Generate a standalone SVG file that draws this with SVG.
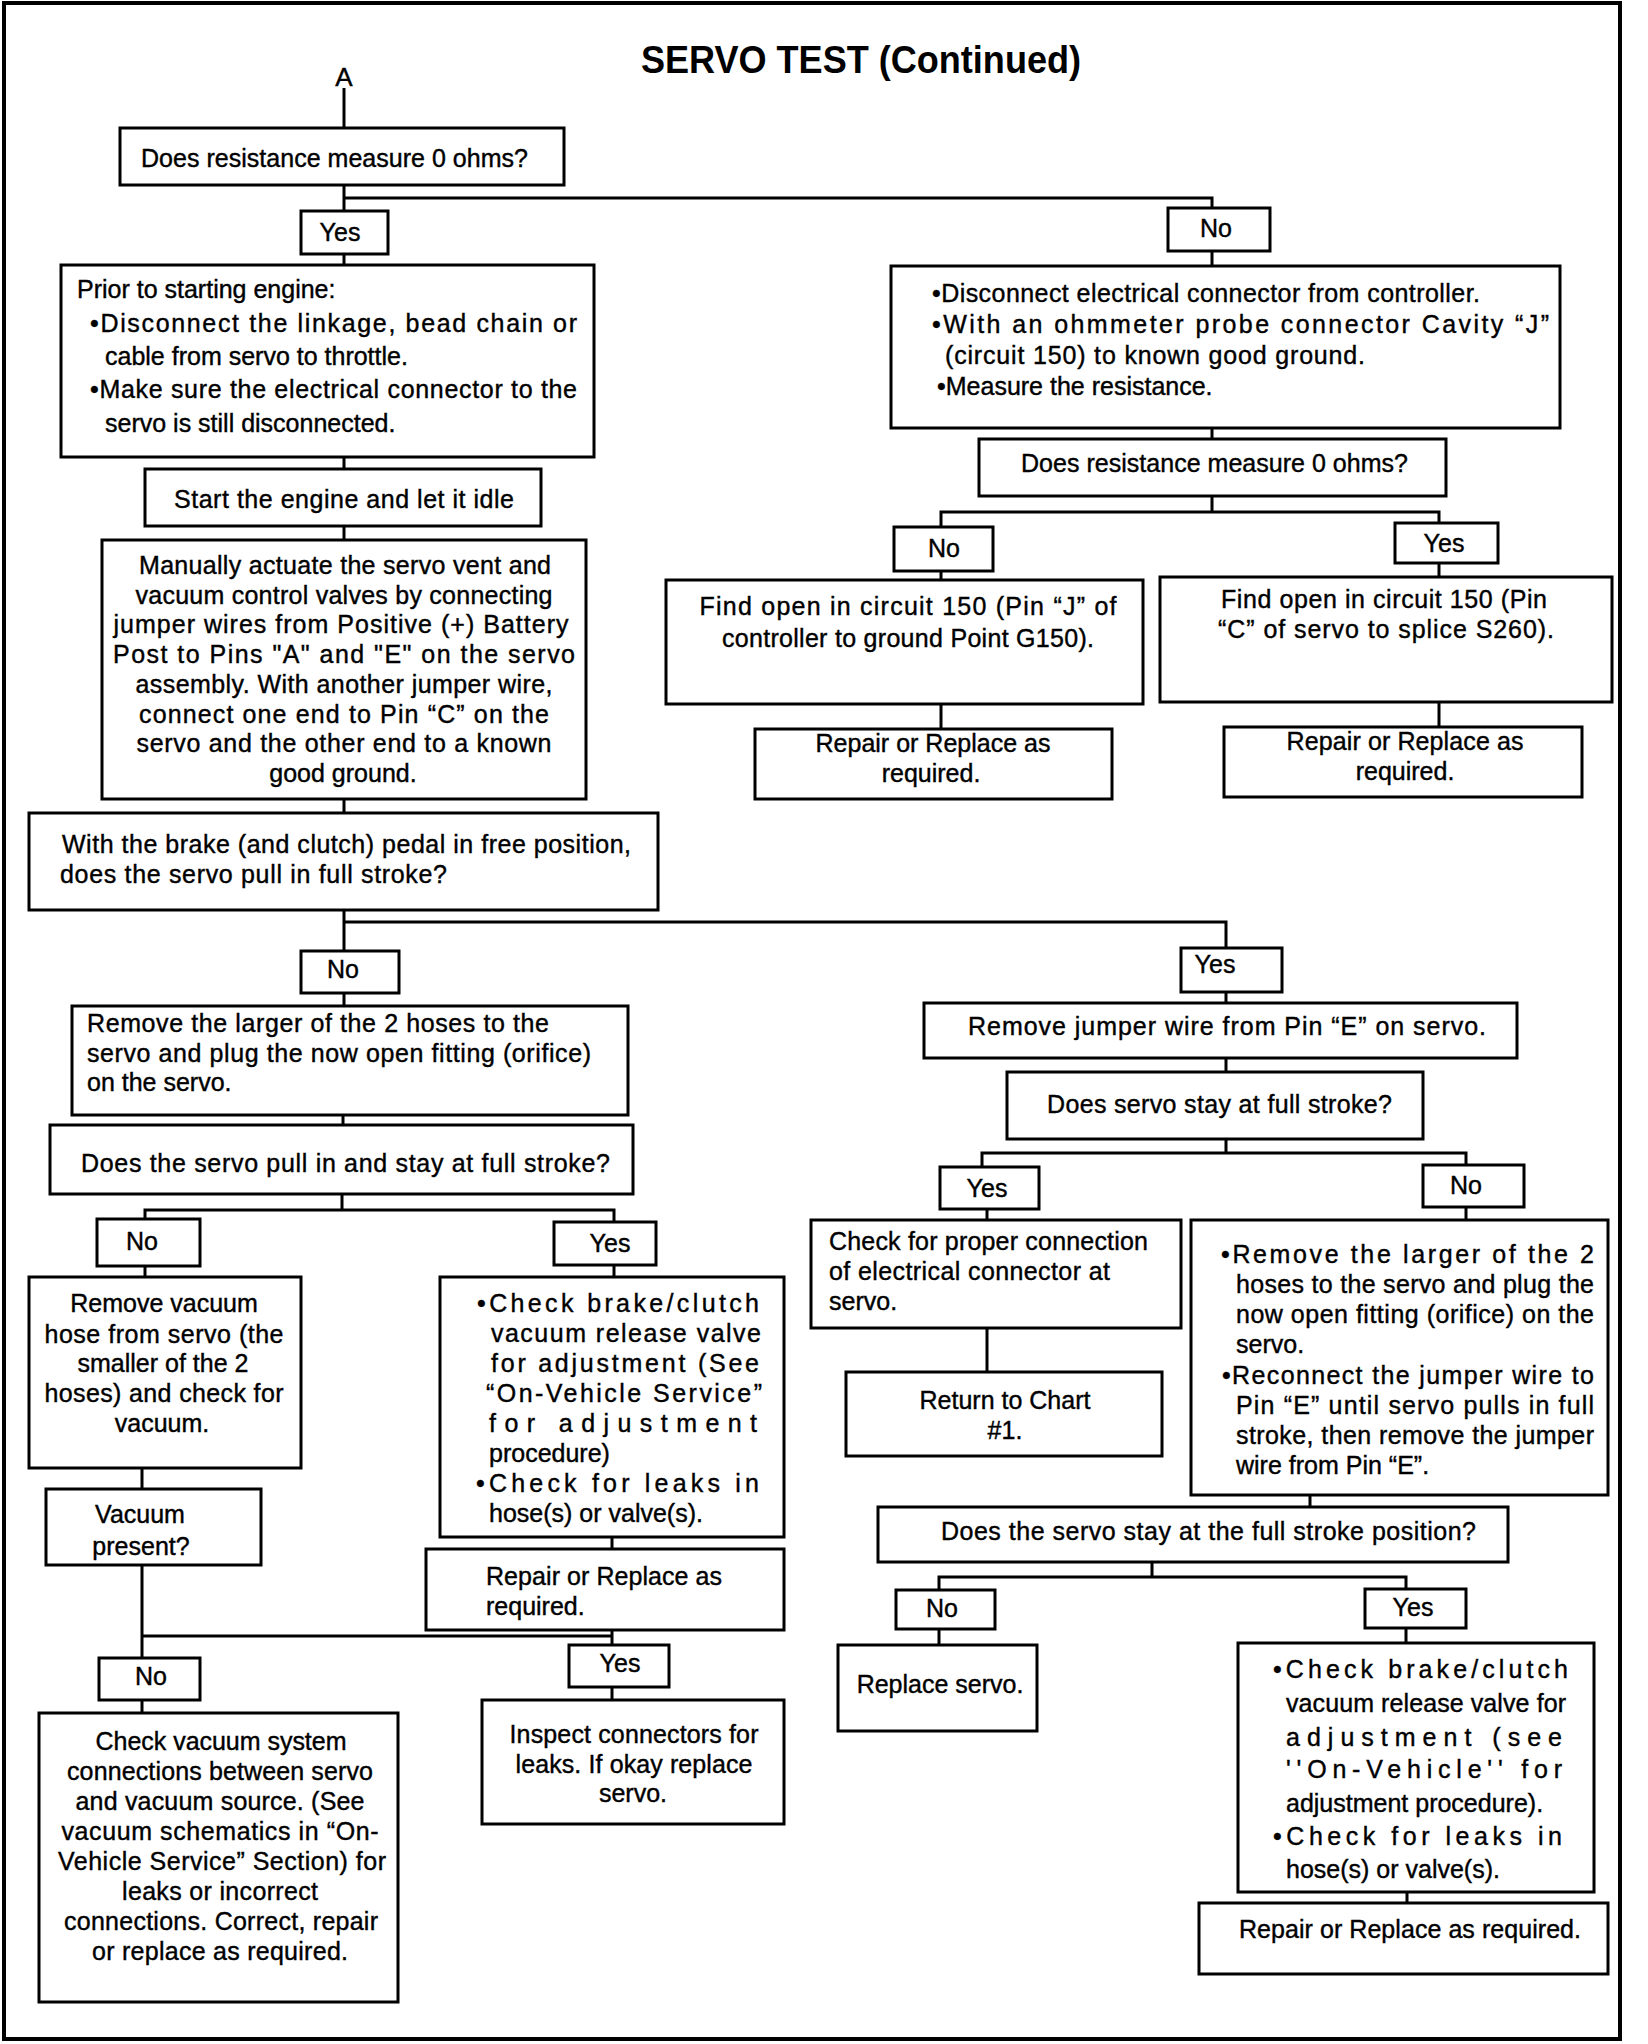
<svg xmlns="http://www.w3.org/2000/svg" width="1648" height="2044" viewBox="0 0 1648 2044">
<style>
.bx{fill:#fff;stroke:#000;stroke-width:3}
.t{font-family:'Liberation Sans',Arial,sans-serif;font-size:25px;fill:#000;stroke:#000;stroke-width:0.4px}
.c{text-anchor:middle}
.ttl{font-family:'Liberation Sans',Arial,sans-serif;font-size:38px;font-weight:bold;fill:#000}
.cn{fill:none;stroke:#000;stroke-width:3}
</style>
<rect x="0" y="0" width="1648" height="2044" fill="#fff"/>
<rect x="4" y="3" width="1616" height="2036" fill="none" stroke="#000" stroke-width="4"/>
<text class="ttl" x="641" y="73" textLength="440" lengthAdjust="spacingAndGlyphs">SERVO TEST (Continued)</text>
<text class="t c" x="344" y="86" style="font-size:26px">A</text>

<g id="connectors" class="cn">
<path d="M344 88V128"/>
<path d="M344 185V211M344 198H1212V208"/>
<path d="M344 254V265"/>
<path d="M344 457V469"/>
<path d="M344 526V540"/>
<path d="M344 799V813"/>
<path d="M344 910V951M344 922H1226V948"/>
<path d="M344 993V1006"/>
<path d="M343 1115V1125"/>
<path d="M342 1194V1210M145 1219V1210H614V1222"/>
<path d="M145 1266V1277"/>
<path d="M614 1265V1277"/>
<path d="M142 1468V1489"/>
<path d="M612 1537V1549"/>
<path d="M142 1565V1658M142 1636H612M612 1630V1645"/>
<path d="M612 1687V1699"/>
<path d="M142 1700V1713"/>
<path d="M1212 251V266"/>
<path d="M1212 428V439"/>
<path d="M1212 496V512M941 527V512H1439V523"/>
<path d="M941 571V580"/>
<path d="M1439 563V577"/>
<path d="M941 704V729"/>
<path d="M1439 702V727"/>
<path d="M1226 992V1003"/>
<path d="M1226 1058V1072"/>
<path d="M1226 1139V1153M982 1167V1153H1466V1165"/>
<path d="M987 1209V1220"/>
<path d="M1466 1207V1220"/>
<path d="M987 1328V1372"/>
<path d="M1310 1495V1507"/>
<path d="M1152 1562V1577M939 1590V1577H1406V1589"/>
<path d="M939 1629V1645"/>
<path d="M1406 1628V1643"/>
<path d="M1407 1892V1903"/>
</g>

<g id="q1">
<rect class="bx" x="120" y="128" width="444" height="57"/>
<text class="t" x="141" y="167" textLength="387" lengthAdjust="spacing">Does resistance measure 0 ohms?</text>
</g>
<g id="q1-yes"><rect class="bx" x="301" y="211" width="87" height="43"/><text class="t c" x="340" y="241">Yes</text></g>
<g id="q1-no"><rect class="bx" x="1168" y="208" width="102" height="43"/><text class="t c" x="1216" y="237">No</text></g>

<g id="prior">
<rect class="bx" x="61" y="265" width="533" height="192"/>
<text class="t" x="77" y="298">Prior to starting engine:</text>
<text class="t" x="90" y="332" textLength="487" lengthAdjust="spacing">•Disconnect the linkage, bead chain or</text>
<text class="t" x="105" y="365">cable from servo to throttle.</text>
<text class="t" x="90" y="398" textLength="487" lengthAdjust="spacing">•Make sure the electrical connector to the</text>
<text class="t" x="105" y="432">servo is still disconnected.</text>
</g>

<g id="start">
<rect class="bx" x="145" y="469" width="396" height="57"/>
<text class="t c" x="344" y="508" textLength="340" lengthAdjust="spacing">Start the engine and let it idle</text>
</g>

<g id="manual">
<rect class="bx" x="102" y="540" width="484" height="259"/>
<text class="t c" x="345" y="574" textLength="412" lengthAdjust="spacing">Manually actuate the servo vent and</text>
<text class="t c" x="344" y="604" textLength="417" lengthAdjust="spacing">vacuum control valves by connecting</text>
<text class="t c" x="341" y="633" textLength="455" lengthAdjust="spacing">jumper wires from Positive (+) Battery</text>
<text class="t c" x="344" y="663" textLength="462" lengthAdjust="spacing">Post to Pins "A" and "E" on the servo</text>
<text class="t c" x="344" y="693" textLength="417" lengthAdjust="spacing">assembly. With another jumper wire,</text>
<text class="t c" x="344" y="723" textLength="410" lengthAdjust="spacing">connect one end to Pin “C” on the</text>
<text class="t c" x="344" y="752" textLength="415" lengthAdjust="spacing">servo and the other end to a known</text>
<text class="t c" x="343" y="782">good ground.</text>
</g>

<g id="brake">
<rect class="bx" x="29" y="813" width="629" height="97"/>
<text class="t" x="62" y="853" textLength="569" lengthAdjust="spacing">With the brake (and clutch) pedal in free position,</text>
<text class="t" x="60" y="883" textLength="387" lengthAdjust="spacing">does the servo pull in full stroke?</text>
</g>
<g id="brake-no"><rect class="bx" x="301" y="951" width="98" height="42"/><text class="t c" x="343" y="978">No</text></g>
<g id="brake-yes"><rect class="bx" x="1181" y="948" width="101" height="44"/><text class="t c" x="1215" y="973">Yes</text></g>

<g id="remove-larger">
<rect class="bx" x="72" y="1006" width="556" height="109"/>
<text class="t" x="87" y="1032" textLength="462" lengthAdjust="spacing">Remove the larger of the 2 hoses to the</text>
<text class="t" x="87" y="1062" textLength="504" lengthAdjust="spacing">servo and plug the now open fitting (orifice)</text>
<text class="t" x="87" y="1091">on the servo.</text>
</g>

<g id="pull-stay">
<rect class="bx" x="50" y="1125" width="583" height="69"/>
<text class="t" x="81" y="1172" textLength="529" lengthAdjust="spacing">Does the servo pull in and stay at full stroke?</text>
</g>
<g id="pull-no"><rect class="bx" x="97" y="1219" width="103" height="47"/><text class="t c" x="142" y="1250">No</text></g>
<g id="pull-yes"><rect class="bx" x="554" y="1222" width="102" height="43"/><text class="t c" x="610" y="1252">Yes</text></g>

<g id="remove-vacuum">
<rect class="bx" x="29" y="1277" width="272" height="191"/>
<text class="t c" x="164" y="1312">Remove vacuum</text>
<text class="t c" x="164" y="1343" textLength="239" lengthAdjust="spacing">hose from servo (the</text>
<text class="t c" x="163" y="1372">smaller of the 2</text>
<text class="t c" x="164" y="1402" textLength="239" lengthAdjust="spacing">hoses) and check for</text>
<text class="t c" x="162" y="1432">vacuum.</text>
</g>

<g id="vacuum-present">
<rect class="bx" x="46" y="1489" width="215" height="76"/>
<text class="t c" x="140" y="1523">Vacuum</text>
<text class="t c" x="141" y="1555">present?</text>
</g>
<g id="vac-no"><rect class="bx" x="99" y="1658" width="101" height="42"/><text class="t c" x="151" y="1685">No</text></g>
<g id="vac-yes"><rect class="bx" x="569" y="1645" width="100" height="42"/><text class="t c" x="620" y="1672">Yes</text></g>

<g id="check-vacuum">
<rect class="bx" x="39" y="1713" width="359" height="289"/>
<text class="t c" x="221" y="1750" textLength="251" lengthAdjust="spacing">Check vacuum system</text>
<text class="t c" x="220" y="1780" textLength="306" lengthAdjust="spacing">connections between servo</text>
<text class="t c" x="220" y="1810" textLength="289" lengthAdjust="spacing">and vacuum source. (See</text>
<text class="t c" x="220" y="1840" textLength="317" lengthAdjust="spacing">vacuum schematics in “On-</text>
<text class="t c" x="222" y="1870" textLength="328" lengthAdjust="spacing">Vehicle Service” Section) for</text>
<text class="t c" x="220" y="1900" textLength="196" lengthAdjust="spacing">leaks or incorrect</text>
<text class="t c" x="221" y="1930" textLength="314" lengthAdjust="spacing">connections. Correct, repair</text>
<text class="t c" x="220" y="1960" textLength="256" lengthAdjust="spacing">or replace as required.</text>
</g>

<g id="inspect">
<rect class="bx" x="482" y="1700" width="302" height="124"/>
<text class="t c" x="634" y="1743" textLength="249" lengthAdjust="spacing">Inspect connectors for</text>
<text class="t c" x="634" y="1773" textLength="237" lengthAdjust="spacing">leaks. If okay replace</text>
<text class="t c" x="633" y="1802">servo.</text>
</g>

<g id="check-brake-left">
<rect class="bx" x="440" y="1277" width="344" height="260"/>
<text class="t" x="477" y="1312" textLength="282" lengthAdjust="spacing">•Check brake/clutch</text>
<text class="t" x="491" y="1342" textLength="270" lengthAdjust="spacing">vacuum release valve</text>
<text class="t" x="491" y="1372" textLength="268" lengthAdjust="spacing">for adjustment (See</text>
<text class="t" x="486" y="1402" textLength="276" lengthAdjust="spacing">“On-Vehicle Service”</text>
<text class="t" x="489" y="1432" textLength="268" lengthAdjust="spacing">for adjustment</text>
<text class="t" x="489" y="1462">procedure)</text>
<text class="t" x="476" y="1492" textLength="283" lengthAdjust="spacing">•Check for leaks in</text>
<text class="t" x="489" y="1522">hose(s) or valve(s).</text>
</g>

<g id="repair-left">
<rect class="bx" x="426" y="1549" width="358" height="81"/>
<text class="t" x="486" y="1585" textLength="236" lengthAdjust="spacing">Repair or Replace as</text>
<text class="t" x="486" y="1615">required.</text>
</g>

<g id="disconnect">
<rect class="bx" x="891" y="266" width="669" height="162"/>
<text class="t" x="932" y="302" textLength="548" lengthAdjust="spacing">•Disconnect electrical connector from controller.</text>
<text class="t" x="932" y="333" textLength="617" lengthAdjust="spacing">•With an ohmmeter probe connector Cavity “J”</text>
<text class="t" x="945" y="364" textLength="420" lengthAdjust="spacing">(circuit 150) to known good ground.</text>
<text class="t" x="937" y="395">•Measure the resistance.</text>
</g>

<g id="q2">
<rect class="bx" x="979" y="439" width="467" height="57"/>
<text class="t" x="1021" y="472" textLength="387" lengthAdjust="spacing">Does resistance measure 0 ohms?</text>
</g>
<g id="q2-no"><rect class="bx" x="894" y="527" width="99" height="44"/><text class="t c" x="944" y="557">No</text></g>
<g id="q2-yes"><rect class="bx" x="1395" y="523" width="103" height="40"/><text class="t c" x="1444" y="552">Yes</text></g>

<g id="find-open-j">
<rect class="bx" x="666" y="580" width="477" height="124"/>
<text class="t c" x="908" y="615" textLength="417" lengthAdjust="spacing">Find open in circuit 150 (Pin “J” of</text>
<text class="t c" x="908" y="647" textLength="372" lengthAdjust="spacing">controller to ground Point G150).</text>
</g>
<g id="find-open-c">
<rect class="bx" x="1160" y="577" width="452" height="125"/>
<text class="t c" x="1384" y="608" textLength="326" lengthAdjust="spacing">Find open in circuit 150 (Pin</text>
<text class="t c" x="1386" y="638" textLength="336" lengthAdjust="spacing">“C” of servo to splice S260).</text>
</g>
<g id="repair-j">
<rect class="bx" x="755" y="729" width="357" height="70"/>
<text class="t c" x="933" y="752" textLength="235" lengthAdjust="spacing">Repair or Replace as</text>
<text class="t c" x="931" y="782">required.</text>
</g>
<g id="repair-c">
<rect class="bx" x="1224" y="727" width="358" height="70"/>
<text class="t c" x="1405" y="750" textLength="237" lengthAdjust="spacing">Repair or Replace as</text>
<text class="t c" x="1405" y="780">required.</text>
</g>

<g id="remove-jumper">
<rect class="bx" x="924" y="1003" width="593" height="55"/>
<text class="t" x="968" y="1035" textLength="518" lengthAdjust="spacing">Remove jumper wire from Pin “E” on servo.</text>
</g>
<g id="stay">
<rect class="bx" x="1007" y="1072" width="416" height="67"/>
<text class="t" x="1047" y="1113" textLength="345" lengthAdjust="spacing">Does servo stay at full stroke?</text>
</g>
<g id="stay-yes"><rect class="bx" x="940" y="1167" width="99" height="42"/><text class="t c" x="987" y="1197">Yes</text></g>
<g id="stay-no"><rect class="bx" x="1423" y="1165" width="101" height="42"/><text class="t c" x="1466" y="1194">No</text></g>

<g id="check-connection">
<rect class="bx" x="811" y="1220" width="370" height="108"/>
<text class="t" x="829" y="1250" textLength="319" lengthAdjust="spacing">Check for proper connection</text>
<text class="t" x="829" y="1280" textLength="281" lengthAdjust="spacing">of electrical connector at</text>
<text class="t" x="829" y="1310">servo.</text>
</g>
<g id="return">
<rect class="bx" x="846" y="1372" width="316" height="84"/>
<text class="t c" x="1005" y="1409">Return to Chart</text>
<text class="t c" x="1005" y="1439">#1.</text>
</g>

<g id="remove-reconnect">
<rect class="bx" x="1191" y="1220" width="417" height="275"/>
<text class="t" x="1221" y="1263" textLength="373" lengthAdjust="spacing">•Remove the larger of the 2</text>
<text class="t" x="1236" y="1293" textLength="358" lengthAdjust="spacing">hoses to the servo and plug the</text>
<text class="t" x="1236" y="1323" textLength="358" lengthAdjust="spacing">now open fitting (orifice) on the</text>
<text class="t" x="1236" y="1353">servo.</text>
<text class="t" x="1222" y="1384" textLength="372" lengthAdjust="spacing">•Reconnect the jumper wire to</text>
<text class="t" x="1236" y="1414" textLength="358" lengthAdjust="spacing">Pin “E” until servo pulls in full</text>
<text class="t" x="1236" y="1444" textLength="358" lengthAdjust="spacing">stroke, then remove the jumper</text>
<text class="t" x="1236" y="1474">wire from Pin “E”.</text>
</g>

<g id="stay-position">
<rect class="bx" x="878" y="1507" width="630" height="55"/>
<text class="t" x="941" y="1540" textLength="535" lengthAdjust="spacing">Does the servo stay at the full stroke position?</text>
</g>
<g id="pos-no"><rect class="bx" x="896" y="1590" width="99" height="39"/><text class="t c" x="942" y="1617">No</text></g>
<g id="pos-yes"><rect class="bx" x="1365" y="1589" width="101" height="39"/><text class="t c" x="1413" y="1616">Yes</text></g>

<g id="replace-servo">
<rect class="bx" x="838" y="1645" width="199" height="86"/>
<text class="t c" x="940" y="1693">Replace servo.</text>
</g>

<g id="check-brake-right">
<rect class="bx" x="1238" y="1643" width="356" height="249"/>
<text class="t" x="1273" y="1678" textLength="295" lengthAdjust="spacing">•Check brake/clutch</text>
<text class="t" x="1286" y="1712" textLength="280" lengthAdjust="spacing">vacuum release valve for</text>
<text class="t" x="1286" y="1746" textLength="276" lengthAdjust="spacing">adjustment (see</text>
<text class="t" x="1286" y="1778" textLength="276" lengthAdjust="spacing">''On-Vehicle'' for</text>
<text class="t" x="1286" y="1812">adjustment procedure).</text>
<text class="t" x="1273" y="1845" textLength="289" lengthAdjust="spacing">•Check for leaks in</text>
<text class="t" x="1286" y="1878">hose(s) or valve(s).</text>
</g>

<g id="repair-right">
<rect class="bx" x="1199" y="1903" width="409" height="71"/>
<text class="t" x="1239" y="1938" textLength="342" lengthAdjust="spacing">Repair or Replace as required.</text>
</g>
</svg>
